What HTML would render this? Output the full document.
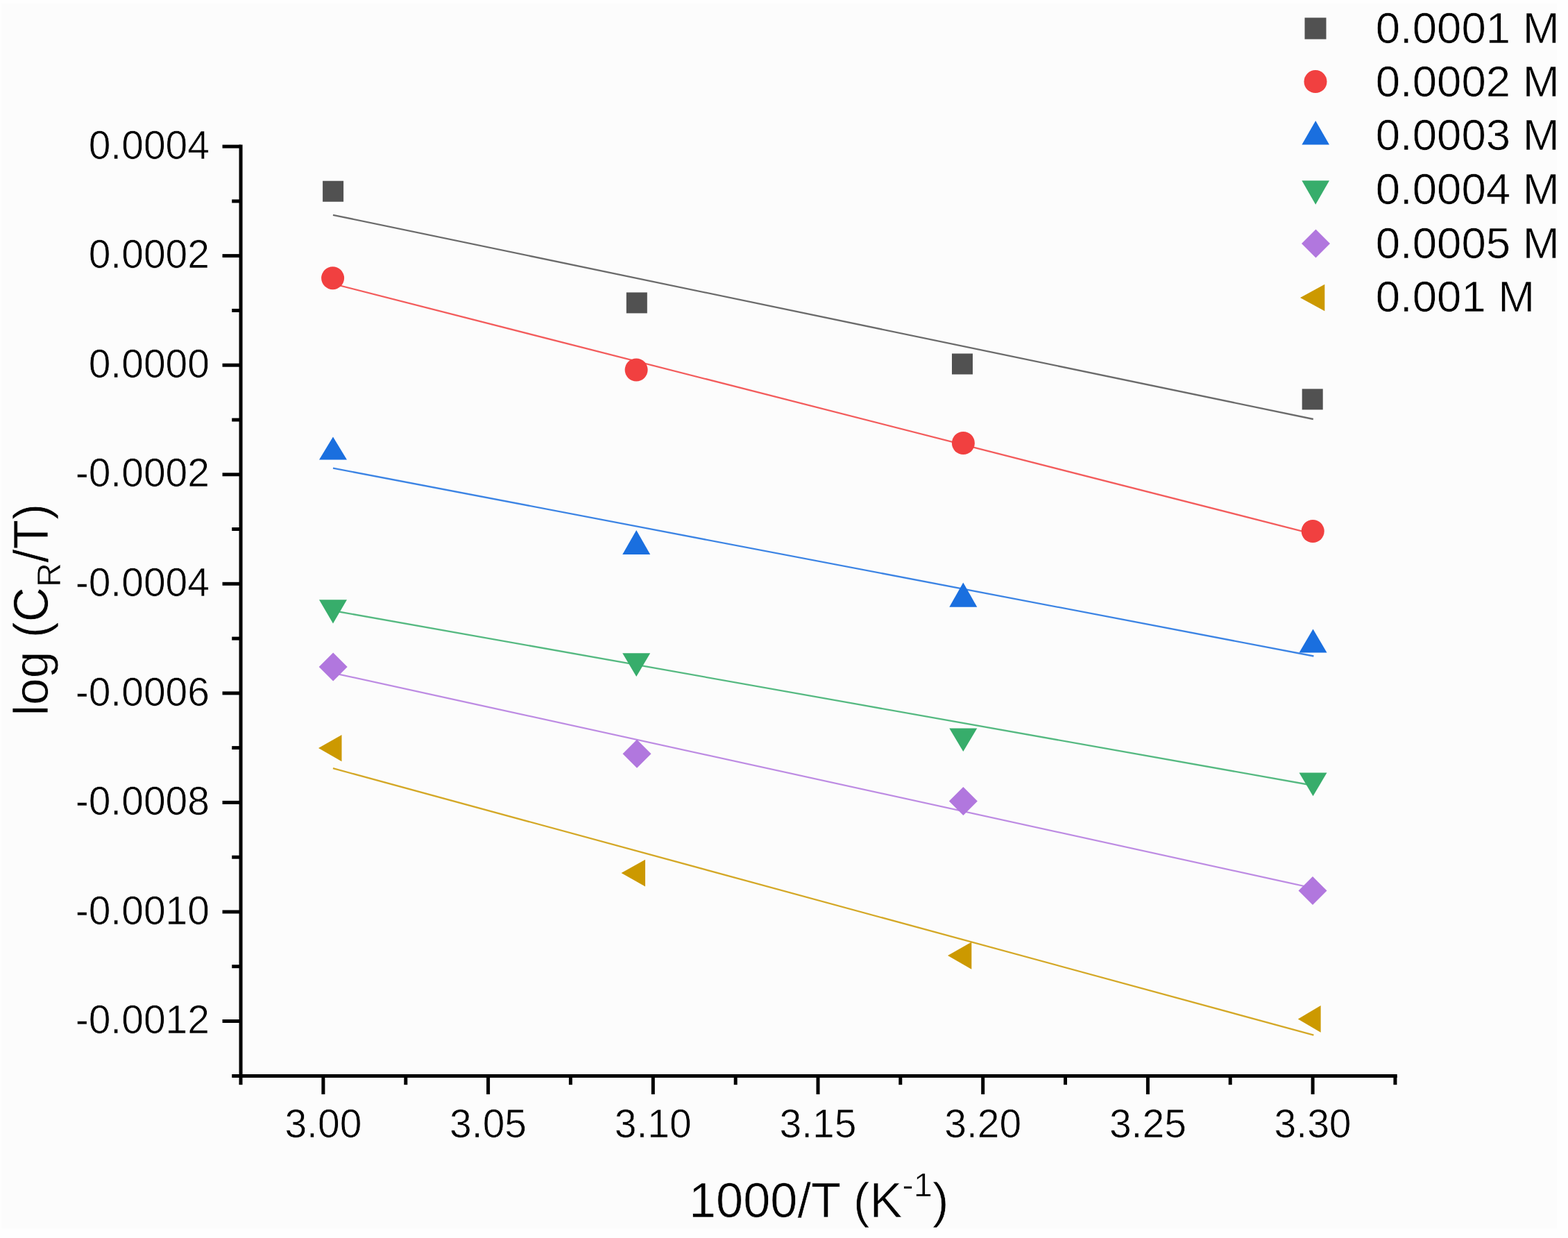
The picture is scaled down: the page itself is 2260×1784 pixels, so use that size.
<!DOCTYPE html>
<html><head><meta charset="utf-8"><title>Arrhenius plot</title>
<style>html,body{margin:0;padding:0;background:#fff;}body{width:2260px;height:1784px;overflow:hidden;}svg{display:block;}</style>
</head><body>
<svg width="2260" height="1784" viewBox="0 0 2260 1784">
<rect width="100%" height="100%" fill="#fefefe"/>
<rect x="2" y="5" width="2242" height="1765" fill="#fcfcfc"/>
<line x1="480" y1="309.8" x2="1892.8" y2="604.0" stroke="#515151" stroke-width="2.3" stroke-opacity="0.85"/>
<line x1="480" y1="409.0" x2="1892.8" y2="769.6" stroke="#F14040" stroke-width="2.3" stroke-opacity="0.85"/>
<line x1="480" y1="674.6" x2="1893.4" y2="945.5" stroke="#1A6FDF" stroke-width="2.3" stroke-opacity="0.85"/>
<line x1="480" y1="880.0" x2="1893.4" y2="1132.0" stroke="#37AD6B" stroke-width="2.3" stroke-opacity="0.85"/>
<line x1="480" y1="969.8" x2="1893.4" y2="1280.0" stroke="#B177DE" stroke-width="2.3" stroke-opacity="0.85"/>
<line x1="480" y1="1107.2" x2="1893.4" y2="1491.6" stroke="#CC9900" stroke-width="2.3" stroke-opacity="0.85"/>
<rect x="465.1" y="260.7" width="30" height="30" fill="#515151"/>
<rect x="902.8" y="421.4" width="30" height="30" fill="#515151"/>
<rect x="1372.0" y="509.5" width="30" height="30" fill="#515151"/>
<rect x="1876.7" y="560.4" width="30" height="30" fill="#515151"/>
<circle cx="479.6" cy="400.7" r="16.5" fill="#F14040"/>
<circle cx="917.1" cy="533" r="16.5" fill="#F14040"/>
<circle cx="1388.4" cy="638.5" r="16.5" fill="#F14040"/>
<circle cx="1892.2" cy="765.5" r="16.5" fill="#F14040"/>
<polygon points="480.0,629.5 500.0,662.5 460.0,662.5" fill="#1A6FDF"/>
<polygon points="917.2,764.0 937.2,799.0 897.2,799.0" fill="#1A6FDF"/>
<polygon points="1388.3,839.5 1408.3,874.8 1368.3,874.8" fill="#1A6FDF"/>
<polygon points="1892.5,906.5 1912.5,940.5 1872.5,940.5" fill="#1A6FDF"/>
<polygon points="460.0,864.3 500.0,864.3 480.0,898.5" fill="#37AD6B"/>
<polygon points="897.2,941.3 937.2,941.3 917.2,975.0" fill="#37AD6B"/>
<polygon points="1368.3,1049.5 1408.3,1049.5 1388.3,1083.0" fill="#37AD6B"/>
<polygon points="1872.5,1113.5 1912.5,1113.5 1892.5,1147.3" fill="#37AD6B"/>
<polygon points="480.2,940.5 500.7,961 480.2,981.5 459.7,961" fill="#B177DE"/>
<polygon points="918,1065.7 938.5,1086.2 918,1106.7 897.5,1086.2" fill="#B177DE"/>
<polygon points="1388.4,1133.9 1408.9,1154.4 1388.4,1174.9 1367.9,1154.4" fill="#B177DE"/>
<polygon points="1892,1263.1 1912.5,1283.6 1892,1304.1 1871.5,1283.6" fill="#B177DE"/>
<polygon points="459.0,1078.1 492.5,1059.0 492.5,1097.2" fill="#CC9900"/>
<polygon points="895.5,1258.1 930.0,1238.7 930.0,1277.4" fill="#CC9900"/>
<polygon points="1366.0,1377.1 1400.3,1357.5 1400.3,1396.7" fill="#CC9900"/>
<polygon points="1870.8,1468.4 1903.6,1449.0 1903.6,1487.8" fill="#CC9900"/>
<g stroke="#000" stroke-width="5.0" fill="none" stroke-linecap="butt">
<line x1="347.05" y1="208.4" x2="347.05" y2="1552.9"/>
<line x1="334.25" y1="1550.4" x2="2013.7" y2="1550.4"/>
<line x1="320.55" y1="211.1" x2="347.05" y2="211.1"/>
<line x1="320.55" y1="368.6" x2="347.05" y2="368.6"/>
<line x1="320.55" y1="526.2" x2="347.05" y2="526.2"/>
<line x1="320.55" y1="683.8" x2="347.05" y2="683.8"/>
<line x1="320.55" y1="841.3" x2="347.05" y2="841.3"/>
<line x1="320.55" y1="998.9" x2="347.05" y2="998.9"/>
<line x1="320.55" y1="1156.4" x2="347.05" y2="1156.4"/>
<line x1="320.55" y1="1314.0" x2="347.05" y2="1314.0"/>
<line x1="320.55" y1="1471.5" x2="347.05" y2="1471.5"/>
<line x1="334.25" y1="289.9" x2="347.05" y2="289.9"/>
<line x1="334.25" y1="447.4" x2="347.05" y2="447.4"/>
<line x1="334.25" y1="605.0" x2="347.05" y2="605.0"/>
<line x1="334.25" y1="762.5" x2="347.05" y2="762.5"/>
<line x1="334.25" y1="920.1" x2="347.05" y2="920.1"/>
<line x1="334.25" y1="1077.6" x2="347.05" y2="1077.6"/>
<line x1="334.25" y1="1235.2" x2="347.05" y2="1235.2"/>
<line x1="334.25" y1="1392.7" x2="347.05" y2="1392.7"/>
<line x1="465.9" y1="1550.4" x2="465.9" y2="1576.9"/>
<line x1="703.6" y1="1550.4" x2="703.6" y2="1576.9"/>
<line x1="941.3" y1="1550.4" x2="941.3" y2="1576.9"/>
<line x1="1179.0" y1="1550.4" x2="1179.0" y2="1576.9"/>
<line x1="1416.7" y1="1550.4" x2="1416.7" y2="1576.9"/>
<line x1="1654.4" y1="1550.4" x2="1654.4" y2="1576.9"/>
<line x1="1892.1" y1="1550.4" x2="1892.1" y2="1576.9"/>
<line x1="347.0" y1="1550.4" x2="347.0" y2="1563.2"/>
<line x1="584.8" y1="1550.4" x2="584.8" y2="1563.2"/>
<line x1="822.4" y1="1550.4" x2="822.4" y2="1563.2"/>
<line x1="1060.2" y1="1550.4" x2="1060.2" y2="1563.2"/>
<line x1="1297.8" y1="1550.4" x2="1297.8" y2="1563.2"/>
<line x1="1535.5" y1="1550.4" x2="1535.5" y2="1563.2"/>
<line x1="1773.2" y1="1550.4" x2="1773.2" y2="1563.2"/>
<line x1="2010.9" y1="1550.4" x2="2010.9" y2="1563.2"/>
</g>
<g font-family="Liberation Sans, Arial, sans-serif" font-size="57" fill="#000" stroke="#fcfcfc" stroke-width="0.7">
<text x="302" y="228.7" text-anchor="end">0.0004</text>
<text x="302" y="386.2" text-anchor="end">0.0002</text>
<text x="302" y="543.8" text-anchor="end">0.0000</text>
<text x="302" y="701.4" text-anchor="end">-0.0002</text>
<text x="302" y="858.9" text-anchor="end">-0.0004</text>
<text x="302" y="1016.5" text-anchor="end">-0.0006</text>
<text x="302" y="1174.0" text-anchor="end">-0.0008</text>
<text x="302" y="1331.5" text-anchor="end">-0.0010</text>
<text x="302" y="1489.1" text-anchor="end">-0.0012</text>
<text x="465.9" y="1639" text-anchor="middle">3.00</text>
<text x="703.6" y="1639" text-anchor="middle">3.05</text>
<text x="941.3" y="1639" text-anchor="middle">3.10</text>
<text x="1179.0" y="1639" text-anchor="middle">3.15</text>
<text x="1416.7" y="1639" text-anchor="middle">3.20</text>
<text x="1654.4" y="1639" text-anchor="middle">3.25</text>
<text x="1892.1" y="1639" text-anchor="middle">3.30</text>
</g>
<text font-family="Liberation Sans, Arial, sans-serif" font-size="70.3" stroke="#fcfcfc" stroke-width="0.7" x="993" y="1754">1000/T (K<tspan font-size="49" dy="-30">-1</tspan><tspan dy="30">)</tspan></text>
<text font-family="Liberation Sans, Arial, sans-serif" font-size="70.3" stroke="#fcfcfc" stroke-width="0.7" transform="translate(68.6,1031.5) rotate(-90) scale(0.99,1)" x="0" y="0">log (C<tspan font-size="49" dy="18">R</tspan><tspan dy="-18">/T)</tspan></text>
<rect x="1880.5" y="25.5" width="31" height="31" fill="#515151"/>
<circle cx="1896" cy="117.6" r="16.5" fill="#F14040"/>
<polygon points="1896.2,174.0 1916.0,208.6 1876.4,208.6" fill="#1A6FDF"/>
<polygon points="1876.4,260.2 1916.0,260.2 1896.2,294.8" fill="#37AD6B"/>
<polygon points="1896.5,330.5 1917.0,351 1896.5,371.5 1876.0,351" fill="#B177DE"/>
<polygon points="1874.0,429.1 1909.3,409.8 1909.3,448.3" fill="#CC9900"/>
<g font-family="Liberation Sans, Arial, sans-serif" font-size="63.5" fill="#000" stroke="#fcfcfc" stroke-width="0.7">
<text x="1982.8" y="62">0.0001 M</text>
<text x="1982.8" y="138.7">0.0002 M</text>
<text x="1982.8" y="215.5">0.0003 M</text>
<text x="1982.8" y="293.6">0.0004 M</text>
<text x="1982.8" y="371.8">0.0005 M</text>
<text x="1982.8" y="448.5">0.001 M</text>
</g>
</svg>
</body></html>
